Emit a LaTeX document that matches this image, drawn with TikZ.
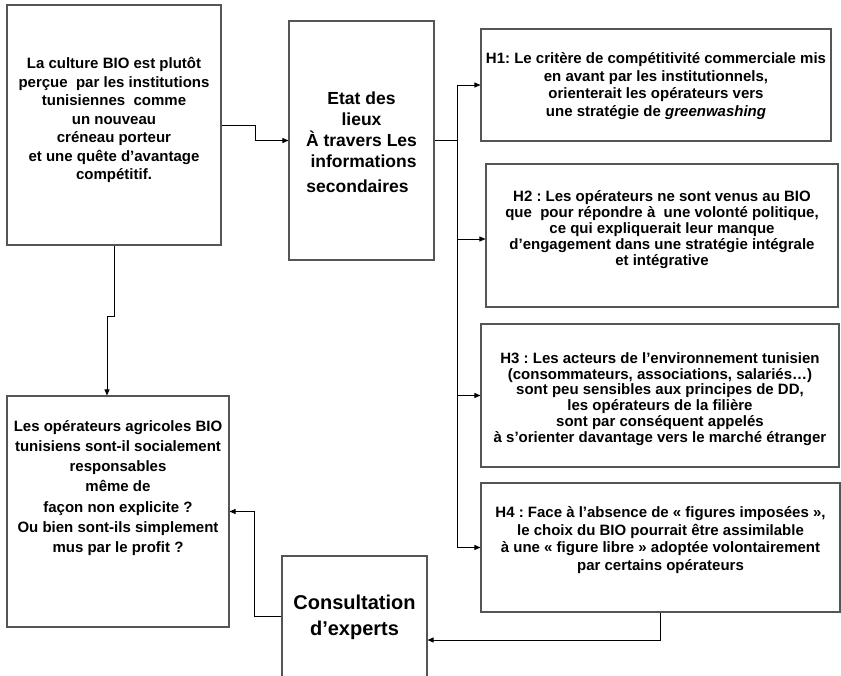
\documentclass[tikz,border=0pt]{standalone}
\usepackage{fontspec}
\setmainfont{Liberation Sans}
\usetikzlibrary{arrows.meta,calc}
\definecolor{boxline}{HTML}{555555}
\tikzset{
  box/.style={draw=boxline, line width=1.1pt, rectangle, inner sep=0pt},
  txt/.style={align=center, inner sep=0pt, font=\bfseries\fontsize{15}{17.5}\selectfont},
  arr/.style={draw=black, line width=0.8pt, -{Triangle[length=6pt,width=5pt]}},
  ln/.style={draw=black, line width=0.8pt}
}
\frenchspacing
\begin{document}
\begin{tikzpicture}[x=1pt,y=-1pt]
\useasboundingbox (0,0) rectangle (841,675);
\clip (0,0) rectangle (841,675);
% boxes
\node[box, minimum width=214pt, minimum height=240pt] (A) at (114,125) {};
\node[box, minimum width=145pt, minimum height=239pt] (B) at (361.5,140.5) {};
\node[box, minimum width=350pt, minimum height=112pt] (H1) at (656,85) {};
\node[box, minimum width=352pt, minimum height=143pt] (H2) at (662,235.5) {};
\node[box, minimum width=358pt, minimum height=143pt] (H3) at (660,395.5) {};
\node[box, minimum width=359pt, minimum height=129pt] (H4) at (660.5,547.5) {};
\node[box, minimum width=222pt, minimum height=231pt] (C) at (118,511.5) {};
\node[box, minimum width=145pt, minimum height=124pt] (K) at (354.5,618) {};
% texts
\node[txt, font=\bfseries\fontsize{15}{18.5}\selectfont] (tA) at (114,120) {La culture BIO est plutôt\\perçue~ par les institutions\\tunisiennes~ comme\\un nouveau\\créneau porteur\\et une quête d’avantage\\compétitif.};
\node[txt, font=\bfseries\fontsize{17.5}{21}\selectfont] (tB) at (361.5,142) {Etat des\\lieux\\À travers Les\\\hspace*{4pt}informations\\[4pt]secondaires\hspace*{8pt}};
\node[txt] (tH1) at (656,86) {H1: Le critère de compétitivité commerciale mis\\en avant par les institutionnels,\\orienterait les opérateurs vers\\une stratégie de \textit{greenwashing}};
\node[txt, font=\bfseries\fontsize{15}{16}\selectfont] (tH2) at (662,230) {H2 : Les opérateurs ne sont venus au BIO\\que~ pour répondre à~ une volonté politique,\\ce qui expliquerait leur manque\\d’engagement dans une stratégie intégrale\\et intégrative};
\node[txt, font=\bfseries\fontsize{15}{15.8}\selectfont] (tH3) at (660,399) {H3 : Les acteurs de l’environnement tunisien\\(consommateurs, associations, salariés…)\\sont peu sensibles aux principes de DD,\\les opérateurs de la filière\\sont par conséquent appelés\\à s’orienter davantage vers le marché étranger};
\node[txt] (tH4) at (660.5,540) {H4 : Face à l’absence de « figures imposées »,\\le choix du BIO pourrait être assimilable\\à une « figure libre » adoptée volontairement\\par certains opérateurs};
\node[txt, font=\bfseries\fontsize{15}{20.3}\selectfont] (tC) at (118,488) {Les opérateurs agricoles BIO\\tunisiens sont-il socialement\\responsables\\même de\\façon non explicite ?\\Ou bien sont-ils simplement\\mus par le profit ?};
\node[txt, font=\bfseries\fontsize{20}{26}\selectfont] (tK) at (354.5,617) {Consultation\\d’experts};
% connectors
\draw[arr] (A.east) -- ++(34,0) |- (B.west);
\draw[ln] (B.east) -- ++(23,0) coordinate (bus);
\draw[arr] (bus) |- (H1.west);
\draw[arr] (bus) |- ([yshift=-3.5pt]H2.west);
\draw[arr] (bus) |- (H3.west);
\draw[arr] (bus) |- (H4.west);
\draw[arr] (A.south) -- ++(0,71) -| ([xshift=-11pt]C.north);
\draw[arr] (H4.south) |- ([yshift=-22pt]K.east);
\draw[arr] ([yshift=2pt]K.west) -- ++(-27,0) |- (C.east);
\end{tikzpicture}
\end{document}
